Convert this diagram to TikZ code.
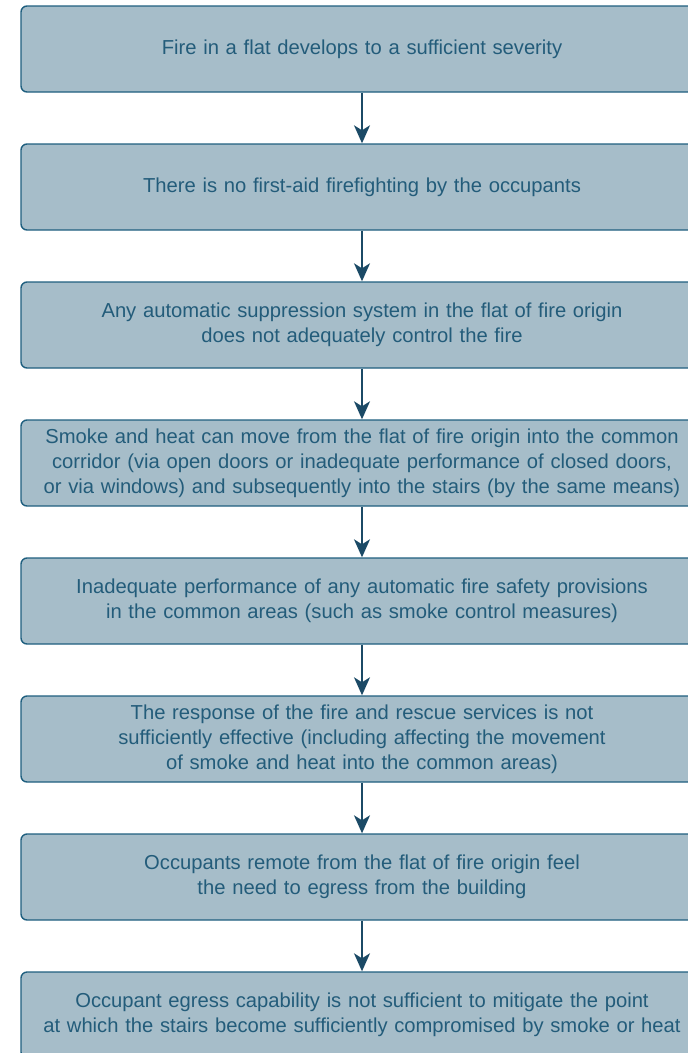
\documentclass[tikz,border=0pt]{standalone}
\usepackage{fontspec}
\setmainfont{Liberation Sans}
\usepackage{xcolor}
\usetikzlibrary{
  arrows.meta,
  positioning,
}
\definecolor{stepline}{HTML}{1F5F7F}
\definecolor{stepfill}{HTML}{A6BDC9}
\definecolor{steptext}{HTML}{235C7A}
\definecolor{flowarrow}{HTML}{1B4A66}

\begin{document}
\begin{tikzpicture}[
    x=1pt, y=1pt,
    stepbox/.style={rectangle, rounded corners=6pt, draw=stepline, fill=stepfill,
                    line width=1.4pt, text=steptext,
                    minimum width=682pt, minimum height=86pt,
                    text width=670pt, inner xsep=6pt, align=center,
                    font=\fontsize{20.2}{25}\selectfont},
    flow/.style={draw=flowarrow, line width=1.5pt,
                 -{Stealth[length=18pt, width=16pt, inset=5pt]}},
    node distance=50.6pt,
  ]
  \useasboundingbox (0,0) rectangle (688,-1053);

  \node[stepbox] (s1) at (362,-49) {Fire in a flat develops to a sufficient severity};
  \node[stepbox, below=of s1] (s2) {There is no first-aid firefighting by the occupants};
  \node[stepbox, below=of s2] (s3) {Any automatic suppression system in the flat of fire origin\\
    does not adequately control the fire};
  \node[stepbox, below=of s3] (s4) {Smoke and heat can move from the flat of fire origin into the common\\
    corridor (via open doors or inadequate performance of closed doors,\\
    or via windows) and subsequently into the stairs (by the same means)};
  \node[stepbox, below=of s4] (s5) {Inadequate performance of any automatic fire safety provisions\\
    in the common areas (such as smoke control measures)};
  \node[stepbox, below=of s5] (s6) {The response of the fire and rescue services is not\\
    sufficiently effective (including affecting the movement\\
    of smoke and heat into the common areas)};
  \node[stepbox, below=of s6] (s7) {Occupants remote from the flat of fire origin feel\\
    the need to egress from the building};
  \node[stepbox, below=of s7] (s8) {Occupant egress capability is not sufficient to mitigate the point\\
    at which the stairs become sufficiently compromised by smoke or heat};

  \draw[flow] (s1) -- (s2);
  \draw[flow] (s2) -- (s3);
  \draw[flow] (s3) -- (s4);
  \draw[flow] (s4) -- (s5);
  \draw[flow] (s5) -- (s6);
  \draw[flow] (s6) -- (s7);
  \draw[flow] (s7) -- (s8);
\end{tikzpicture}
\end{document}
